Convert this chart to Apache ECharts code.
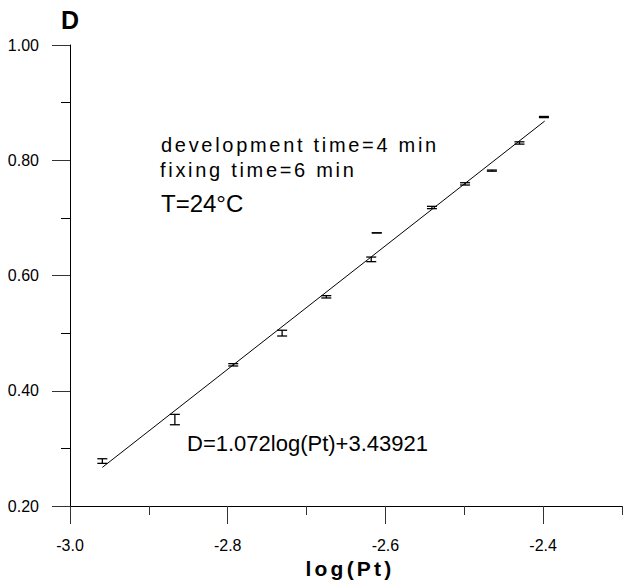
<!DOCTYPE html>
<html>
<head>
<meta charset="utf-8">
<script src="https://cdn.jsdelivr.net/npm/echarts@6/dist/echarts.min.js"></script>
<style>
  html, body { margin: 0; padding: 0; background: #fff; }
  #chart { width: 623px; height: 584px; }
  /* the original figure uses widely spaced lettering */
  #chart text[style*="20px"] { letter-spacing: 2.7px; }
  #chart text[style*="21px"] { letter-spacing: 3.2px; }
</style>
</head>
<body>
<div id="chart"></div>
<script>
// measured points: log(Pt), D, error (+/-)
const logPt = [-2.959, -2.867, -2.793, -2.731, -2.675, -2.618, -2.611, -2.541, -2.499, -2.465, -2.430, -2.399];
const density = [0.278, 0.350, 0.445, 0.500, 0.563, 0.628, 0.674, 0.718, 0.759, 0.782, 0.830, 0.875];
const errors = [0.004, 0.009, 0.002, 0.005, 0.002, 0.004, 0, 0.002, 0.002, 0.001, 0.002, 0.001];

// fitted line end points
const fitLine = [[-2.959, 0.267], [-2.398, 0.868]];

const xMajorTicks = [-3.0, -2.8, -2.6, -2.4];
const xMinorTicks = [-2.9, -2.7, -2.5, -2.3];

const FONT = "'Liberation Sans', Arial, sans-serif";

const chart = echarts.init(document.getElementById('chart'), null, { renderer: 'svg' });

const barData = logPt.map((x, i) => [x, density[i], errors[i]]);

const option = {
  animation: false,
  grid: { left: 70, right: 1, top: 45, bottom: 78 },
  xAxis: [
    {
      type: 'value',
      min: -3.0,
      max: -2.3,
      position: 'bottom',
      name: 'log(Pt)',
      nameLocation: 'middle',
      nameGap: 52,
      nameTextStyle: { color: '#000', fontSize: 21, fontWeight: 'bold', fontFamily: FONT, padding: [0, 0, 0, 8] },
      axisLine: { show: true, onZero: false, lineStyle: { color: '#000', width: 1 } },
      axisTick: { show: true, length: 18, customValues: xMajorTicks, lineStyle: { color: '#333', width: 1 } },
      axisLabel: {
        customValues: xMajorTicks,
        margin: 31,
        color: '#000',
        fontSize: 16,
        fontFamily: FONT,
        formatter: (v) => v.toFixed(1),
      },
      splitLine: { show: false },
    },
    {
      type: 'value',
      min: -3.0,
      max: -2.3,
      position: 'bottom',
      axisLine: { show: false },
      axisTick: { show: true, length: 9, customValues: xMinorTicks, lineStyle: { color: '#333', width: 1 } },
      axisLabel: { show: false },
      splitLine: { show: false },
    },
  ],
  yAxis: {
    type: 'value',
    min: 0.2,
    max: 1.0,
    interval: 0.2,
    name: 'D',
    nameLocation: 'end',
    nameGap: 13,
    nameTextStyle: { color: '#000', fontSize: 25, fontWeight: 'bold', fontFamily: FONT, align: 'center' },
    axisLine: { show: true, onZero: false, lineStyle: { color: '#000', width: 1 } },
    axisTick: { show: true, length: 18, lineStyle: { color: '#333', width: 1 } },
    minorTick: { show: true, splitNumber: 2, length: 9, lineStyle: { color: '#000', width: 1 } },
    axisLabel: {
      margin: 31,
      color: '#000',
      fontSize: 16,
      fontFamily: FONT,
      formatter: (v) => v.toFixed(2),
    },
    splitLine: { show: false },
    minorSplitLine: { show: false },
  },
  series: [
    {
      name: 'fit',
      type: 'line',
      xAxisIndex: 0,
      data: fitLine,
      symbol: 'none',
      lineStyle: { color: '#000', width: 1 },
      silent: true,
    },
    {
      name: 'D',
      type: 'custom',
      xAxisIndex: 0,
      data: barData,
      encode: { x: 0, y: 1 },
      renderItem(params, api) {
        const x = api.value(0);
        const y = api.value(1);
        const e = api.value(2);
        const top = api.coord([x, y + e]);
        const bot = api.coord([x, y - e]);
        const w = 5;
        const style = { stroke: '#000', lineWidth: 1.3 };
        return {
          type: 'group',
          children: [
            { type: 'line', shape: { x1: top[0], y1: top[1], x2: bot[0], y2: bot[1] }, style },
            { type: 'line', shape: { x1: top[0] - w, y1: top[1], x2: top[0] + w, y2: top[1] }, style },
            { type: 'line', shape: { x1: bot[0] - w, y1: bot[1], x2: bot[0] + w, y2: bot[1] }, style },
          ],
        };
      },
    },
  ],
  graphic: [
    {
      type: 'text', x: 161, y: 135,
      style: { text: 'development time=4 min', fontSize: 20, fontFamily: FONT, fill: '#000', verticalAlign: 'top' },
    },
    {
      type: 'text', x: 160, y: 160,
      style: { text: 'fixing time=6 min', fontSize: 20, fontFamily: FONT, fill: '#000', verticalAlign: 'top' },
    },
    {
      type: 'text', x: 161, y: 191,
      style: { text: 'T=24°C', fontSize: 24, fontFamily: FONT, fill: '#000', verticalAlign: 'top' },
    },
    {
      type: 'text', x: 187, y: 432,
      style: { text: 'D=1.072log(Pt)+3.43921', fontSize: 22, fontFamily: FONT, fill: '#000', verticalAlign: 'top' },
    },
  ],
};

chart.setOption(option);
</script>
</body>
</html>
